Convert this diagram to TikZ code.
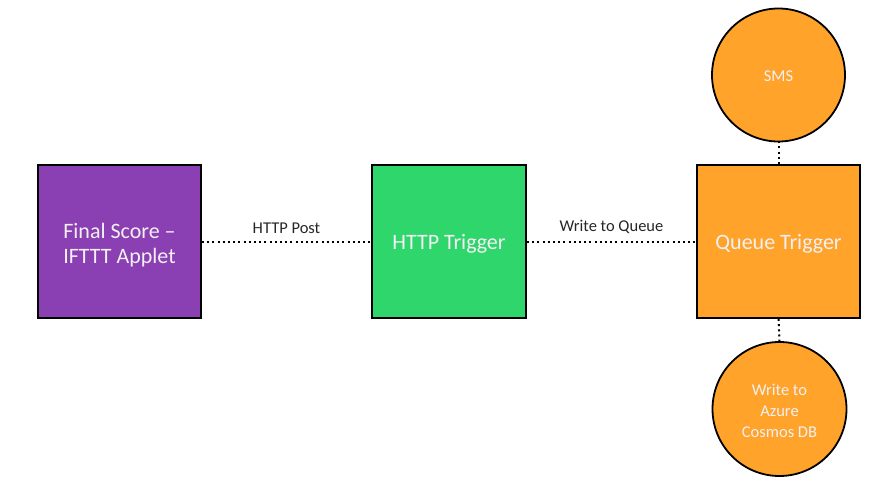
\documentclass[tikz,border=0pt]{standalone}
\usepackage{fontspec}
\setmainfont{Carlito}
\definecolor{boxpurple}{HTML}{8A3FB2}
\definecolor{boxgreen}{HTML}{2ED66C}
\definecolor{boxorange}{HTML}{FFA32B}
\definecolor{lighttext}{HTML}{F4F0F4}
\definecolor{labeltext}{HTML}{262626}
\tikzset{
  stepbox/.style={draw=black, line width=1.8pt, minimum height=153pt, text=lighttext,
    align=center, font=\fontsize{22}{25}\selectfont, inner sep=0pt},
  roundnode/.style={circle, draw=black, line width=1.8pt, fill=boxorange, text=lighttext,
    align=center, font=\fontsize{16.5}{21}\selectfont, inner sep=0pt},
  conn/.style={line width=2pt, dash pattern=on 2pt off 3.2pt, black},
  connlabel/.style={text=labeltext, font=\fontsize{16.5}{19}\selectfont, inner sep=0pt, yshift=7pt}
}
\begin{document}
\begin{tikzpicture}[x=1pt, y=-1pt]
\useasboundingbox (0,0) rectangle (889,500);
\node[stepbox, fill=boxpurple, minimum width=163pt] (final) at (119.5,241.5) {};
\node[text=lighttext, align=center, font=\fontsize{22}{25}\selectfont] (finaltext) at (119.5,245) {Final Score –\\IFTTT Applet};
\node[stepbox, fill=boxgreen, minimum width=154pt] (http) at (449,241.5) {};
\node[text=lighttext, font=\fontsize{22}{25}\selectfont] (httptext) at (449,243.5) {HTTP Trigger};
\node[stepbox, fill=boxorange, minimum width=163pt] (queue) at (778.5,241.5) {};
\node[text=lighttext, font=\fontsize{22}{25}\selectfont] (queuetext) at (778.5,243.5) {Queue Trigger};
\node[roundnode, minimum size=133pt] (sms) at (778.5,75) {};
\node[text=lighttext, font=\fontsize{16.5}{21}\selectfont] (smstext) at (778.5,76.5) {SMS};
\node[roundnode, minimum size=134pt] (cosmos) at (779.5,409) {};
\node[text=lighttext, align=center, font=\fontsize{16.5}{21}\selectfont] (cosmostext) at (779.5,411) {Write to\\Azure\\Cosmos DB};
\draw[conn] (final.east) -- node[connlabel, above] {HTTP Post} (http.west);
\draw[conn] (http.east) -- node[connlabel, above] {Write to Queue} (queue.west);
\draw[conn] (queue.north) -- (sms.south);
\draw[conn] (queue.south) -- (cosmos.north);
\end{tikzpicture}
\end{document}
